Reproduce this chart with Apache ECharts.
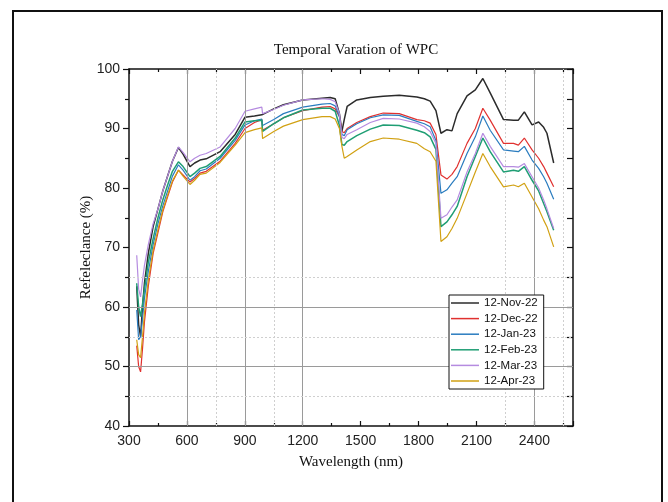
<!DOCTYPE html>
<html>
<head>
<meta charset="utf-8">
<script src="https://cdn.jsdelivr.net/npm/echarts@6/dist/echarts.min.js"></script>
<style>
  html, body { margin: 0; padding: 0; background: #fff; }
  #chart { width: 668px; height: 502px; }
</style>
</head>
<body>
<div id="chart"></div>
<script>
  // wavelengths (nm) shared by all series
  var wavelength = [340, 350, 360, 370, 380, 400, 425, 450, 475, 500,
    525, 556, 580, 616, 640, 668, 700, 772, 850, 901,
    950, 988, 992, 1050, 1100, 1200, 1300, 1342, 1368, 1390,
    1403, 1415, 1430, 1480, 1550, 1617, 1700, 1791, 1830, 1860,
    1890, 1916, 1947, 1973, 2000, 2051, 2094, 2133, 2171, 2240,
    2292, 2317, 2348, 2388, 2422, 2448, 2465, 2500]

  var seriesNames = ['12-Nov-22', '12-Dec-22', '12-Jan-23', '12-Feb-23', '12-Mar-23', '12-Apr-23']
  var colors = ['#2b2b2b', '#e0312f', '#2a7cbf', '#1f9e74', '#b58be0', '#d1a113']
  var widths = [1.5, 1.2, 1.2, 1.5, 1.2, 1.2]

  var nov22 = [63.5, 57, 55, 60, 64, 69, 73.5, 76.5, 79.5, 82,
    84.5, 86.8, 85.7, 83.6, 84.2, 84.7, 84.9, 86.1, 89.0, 91.9,
    92.1, 92.3, 92.3, 93.3, 94.0, 94.8, 95.1, 95.2, 95.0, 92.5,
    89.5, 91.5, 93.7, 94.8, 95.2, 95.4, 95.6, 95.3, 95.0, 94.6,
    93.0, 89.2, 89.8, 89.6, 92.5, 95.5, 96.5, 98.4, 96.0, 91.5,
    91.4, 91.4, 92.8, 90.6, 91.1, 90.2, 89.2, 84.2]
  var dec22 = [53.5, 50, 49.1, 53, 57.5, 63.5, 69, 72.5, 76, 78.5,
    81, 83.0, 82.2, 81.0, 81.6, 82.5, 82.8, 84.5, 87.5, 90.0,
    91.0, 91.5, 89.7, 90.8, 91.8, 93.0, 93.6, 93.7, 93.3, 92.0,
    89.5, 89.3, 90.0, 91.0, 92.0, 92.6, 92.5, 91.5, 91.3, 90.9,
    89.0, 82.2, 81.5, 82.3, 83.6, 87.5, 90.0, 93.4, 91.4, 87.5,
    87.5, 87.2, 88.4, 86.4, 85.0, 83.6, 82.5, 80.2]
  var jan23 = [59.5, 54.5, 55, 58, 61.5, 66, 70.5, 74, 77, 79.5,
    82, 83.9, 83.0, 81.3, 81.9, 82.9, 83.2, 85.0, 88.0, 90.6,
    91.3, 91.6, 90.5, 91.5, 92.5, 93.6, 94.1, 94.2, 93.8, 92.0,
    89.0, 88.8, 89.8, 90.8, 91.8, 92.3, 92.2, 91.2, 90.8, 90.3,
    88.0, 79.1, 79.7, 80.8, 81.9, 85.8, 88.6, 92.1, 89.7, 86.4,
    86.2, 86.1, 87.0, 84.7, 83.3, 81.9, 80.8, 78.1]
  var feb23 = [64, 60, 58.4, 60.5, 63, 67.5, 71.5, 75, 78, 80.5,
    82.8, 84.4, 83.6, 81.9, 82.5, 83.3, 83.6, 85.3, 88.4, 91.1,
    91.3, 91.4, 89.5, 90.8, 91.8, 93.1, 93.4, 93.4, 92.9, 90.5,
    87.3, 87.2, 87.8, 88.8, 89.9, 90.6, 90.5, 89.7, 89.3, 88.6,
    86.5, 73.5, 74.3, 75.5, 76.9, 81.9, 85.3, 88.4, 86.1, 82.7,
    83.0, 82.8, 83.6, 81.3, 79.5, 77.4, 76.0, 72.9]
  var mar23 = [68.7, 63, 61.7, 64.5, 67, 70.5, 74, 76.5, 79.5, 82,
    84.5, 86.9, 86, 84.4, 85.0, 85.5, 85.8, 86.9, 90.0, 92.9,
    93.3, 93.6, 92.5, 93.2, 93.9, 94.8, 95.0, 94.9, 94.5, 92.5,
    88.5, 88.3, 89.0, 89.8, 91.0, 91.7, 91.6, 90.9, 90.3, 89.5,
    87.5, 74.9, 75.5, 76.8, 78.0, 82.7, 85.8, 89.2, 87.0, 83.6,
    83.6, 83.5, 84.1, 81.9, 80.0, 78.0, 76.5, 73.2]
  var apr23 = [54.5, 52, 51.5, 55, 59, 64.5, 69.5, 73, 76.3, 78.8,
    81.2, 83.0, 82.0, 80.6, 81.3, 82.3, 82.5, 84.3, 87.2, 89.3,
    89.8, 90.1, 88.3, 89.5, 90.4, 91.5, 92.0, 92.0, 91.6, 90.0,
    87.0, 85.0, 85.3, 86.4, 87.8, 88.4, 88.2, 87.5, 86.6, 86.1,
    84.5, 71.0, 71.8, 73.2, 74.9, 79.1, 82.7, 85.8, 83.6, 80.2,
    80.5, 80.2, 80.8, 78.5, 76.5, 74.6, 73.5, 70.1]
  var allValues = [nov22, dec22, jan23, feb23, mar23, apr23]

  // the odd partial grid of the original figure
  var solidGridX = [600, 900, 1200, 2400]
  var dottedGridX = [750, 1050, 2250, 2550]
  var solidGridY = [50, 60]
  var dottedGridY = [45, 55, 65]

  var chart = echarts.init(document.getElementById('chart'))

  var gridLines = []
  solidGridX.forEach(function (v) { gridLines.push({xAxis: v, lineStyle: {color: '#9a9a9a', type: 'solid', width: 1}}) })
  dottedGridX.forEach(function (v) { gridLines.push({xAxis: v, lineStyle: {color: '#cfcfcf', type: [2, 2], width: 1}}) })
  solidGridY.forEach(function (v) { gridLines.push({yAxis: v, lineStyle: {color: '#9a9a9a', type: 'solid', width: 1}}) })
  dottedGridY.forEach(function (v) { gridLines.push({yAxis: v, lineStyle: {color: '#cfcfcf', type: [2, 2], width: 1}}) })

  var series = [{
    name: 'grid',
    type: 'line',
    data: [],
    z: 1,
    markLine: {
      silent: true,
      symbol: 'none',
      label: {show: false},
      animation: false,
      data: gridLines,
    },
  }]
  seriesNames.forEach(function (name, i) {
    series.push({
      name: name,
      type: 'line',
      symbol: 'none',
      z: 3,
      lineStyle: {color: colors[i], width: widths[i]},
      itemStyle: {color: colors[i]},
      data: wavelength.map(function (w, j) { return [w, allValues[i][j]] }),
    })
  })

  var axisText = {fontFamily: 'Liberation Sans', fontSize: 14, color: '#222'}
  var nameText = {fontFamily: 'Liberation Serif', fontSize: 15, color: '#111'}

  var option = {
    animation: false,
    backgroundColor: '#fff',
    title: {
      text: 'Temporal Varation of WPC',
      left: 351,
      top: 38,
      textAlign: 'center',
      textStyle: {fontFamily: 'Liberation Serif', fontSize: 15, fontWeight: 'normal', color: '#111'},
    },
    graphic: [{
      type: 'rect',
      shape: {x: 13, y: 11, width: 649, height: 520},
      style: {fill: 'none', stroke: '#111', lineWidth: 2},
      silent: true,
    }],
    grid: {left: 129, right: 95, top: 69, bottom: 76},
    legend: {
      orient: 'vertical',
      left: 449,
      top: 295,
      z: 20,
      data: seriesNames,
      icon: 'rect',
      itemWidth: 28,
      itemHeight: 1.5,
      itemGap: 1.6,
      padding: [1, 6, 1, 2],
      borderColor: '#111',
      borderWidth: 1,
      backgroundColor: '#fff',
      textStyle: {fontFamily: 'Liberation Sans', fontSize: 11.5, color: '#111', lineHeight: 14},
    },
    xAxis: [{
      type: 'value',
      min: 300,
      max: 2600,
      interval: 300,
      name: 'Wavelength (nm)',
      nameLocation: 'middle',
      nameGap: 29,
      nameTextStyle: nameText,
      axisLine: {lineStyle: {color: '#111', width: 1.5}},
      axisTick: {inside: true, length: 5, lineStyle: {color: '#111', width: 1.2}},
      minorTick: {show: true, splitNumber: 2, length: 3, lineStyle: {color: '#111', width: 1.2}},
      axisLabel: Object.assign({margin: 8, showMaxLabel: false, formatter: function (v) { return String(v) }}, axisText),
      splitLine: {show: false},
    }, {
      type: 'value',
      position: 'top',
      min: 300,
      max: 2600,
      interval: 300,
      axisLine: {lineStyle: {color: '#111', width: 1.5}},
      axisTick: {inside: true, length: 5, lineStyle: {color: '#111', width: 1.2}},
      minorTick: {show: true, splitNumber: 2, length: 3, lineStyle: {color: '#111', width: 1.2}},
      axisLabel: {show: false},
      splitLine: {show: false},
    }],
    yAxis: [{
      type: 'value',
      min: 40,
      max: 100,
      interval: 10,
      name: 'Refeleclance (%)',
      nameLocation: 'middle',
      nameGap: 35,
      nameMoveOverlap: false,
      nameTextStyle: nameText,
      axisLine: {show: true, lineStyle: {color: '#111', width: 1.5}},
      axisTick: {show: true, length: 6, lineStyle: {color: '#111', width: 1.2}},
      minorTick: {show: true, splitNumber: 2, length: 4, lineStyle: {color: '#111', width: 1.2}},
      axisLabel: Object.assign({margin: 9}, axisText),
      splitLine: {show: false},
    }, {
      type: 'value',
      position: 'right',
      min: 40,
      max: 100,
      interval: 5,
      axisLine: {show: true, lineStyle: {color: '#111', width: 1.5}},
      axisTick: {show: true, inside: true, length: 6, lineStyle: {color: '#111', width: 1.2}},
      axisLabel: {show: false},
      splitLine: {show: false},
    }],
    series: series,
  }
  chart.setOption(option)
</script>
</body>
</html>
